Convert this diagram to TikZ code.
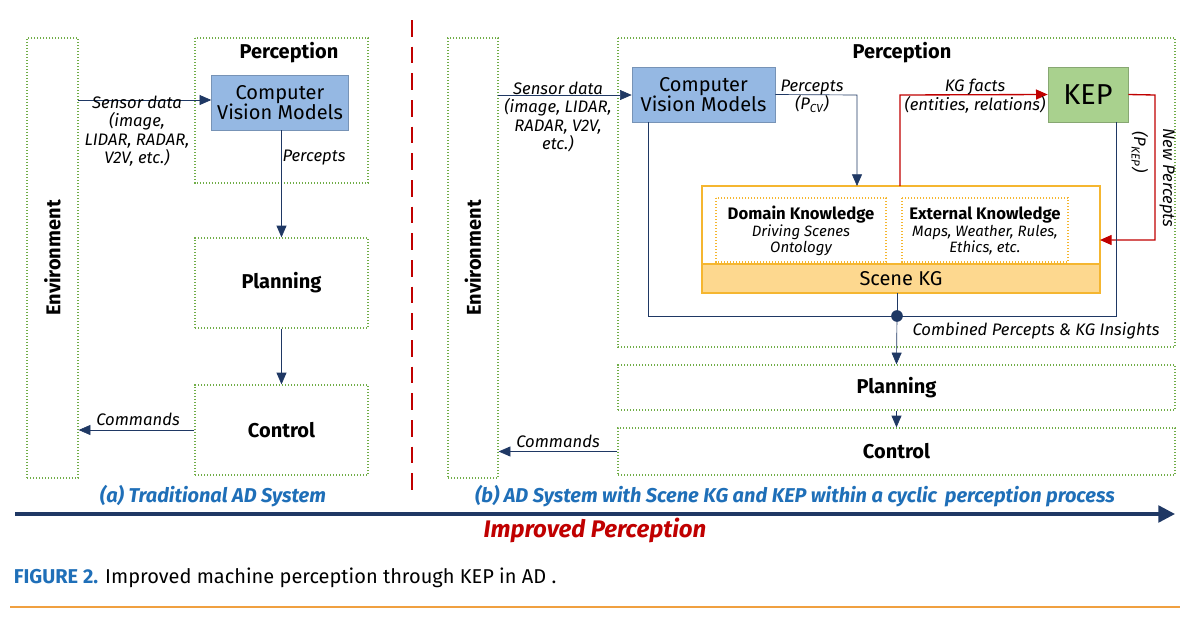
\documentclass[tikz,border=0pt]{standalone}
\usepackage{fontspec}
\setmainfont{Fira Sans}
\usetikzlibrary{arrows.meta}
\definecolor{navy}{HTML}{1F3864}
\definecolor{grn}{HTML}{70AD47}
\definecolor{cvblue}{HTML}{95B8E3}
\definecolor{kepgrn}{HTML}{A9D18E}
\definecolor{kgorange}{HTML}{F5B630}
\definecolor{kgfill}{HTML}{FDD88F}
\definecolor{capblue}{HTML}{1F6FB8}
\definecolor{darkred}{HTML}{C00000}
\definecolor{rulecol}{HTML}{F0A040}
\newcommand{\sbs}[1]{\textsubscript{\itshape #1}}
\tikzset{
  stage/.style={draw=grn, densely dotted, thick},
  model/.style={draw=cvblue!80!black, fill=cvblue, align=center, font=\large},
  link/.style={draw=navy, -{Triangle[width=6pt,length=7pt]}},
  plain/.style={draw=navy},
  redlink/.style={draw=darkred, thick, -{Triangle[width=6pt,length=7pt]}},
  lbl/.style={font=\itshape, align=center},
  title/.style={font=\bfseries\large}
}
\begin{document}
\begin{tikzpicture}[x=0.6pt, y=-0.6pt]
  \useasboundingbox (0,0) rectangle (1200,631);

  % (a) Traditional system
  \node[stage, minimum width=51*0.6pt, minimum height=440*0.6pt] (envA) at (52.5,258) {};
  \node[rotate=90, title] at (envA) {Environment};
  \draw[stage] (195,38) rectangle (368,183);
  \node[title] (percA) at (289,53) {Perception};
  \node[model, minimum width=130*0.6pt, minimum height=55*0.6pt] (cvA) at (280,102.5) {Computer\\[-2pt]Vision Models};
  \node[stage, minimum width=173*0.6pt, minimum height=90*0.6pt] (planA) at (281.5,283) {};
  \node[title] at (planA) {Planning};
  \node[stage, minimum width=173*0.6pt, minimum height=90*0.6pt] (ctrlA) at (281.5,430) {};
  \node[title] at (ctrlA) {Control};

  \coordinate (sensA) at (78,100);
  \draw[link] (sensA) -- (cvA.west |- sensA);
  \node[lbl] at (137,131) {Sensor data\\[-1pt](image,\\[-1pt]LIDAR, RADAR,\\[-1pt]V2V, etc.)};
  \draw[link] (cvA.south -| planA.north) -- (planA.north);
  \node[lbl] at (314,158) {Percepts};
  \draw[link] (planA.south) -- (ctrlA.north);
  \draw[link] (ctrlA.west) -- (envA.east |- ctrlA.west);
  \node[lbl] at (138,419) {Commands};

  % separator
  \draw[darkred, thick, dash pattern=on 10pt off 6pt] (412,20) -- (412,495);

  % (b) With Scene KG and KEP
  \node[stage, minimum width=50*0.6pt, minimum height=440*0.6pt] (envB) at (473,258) {};
  \node[rotate=90, title] at (envB) {Environment};
  \draw[stage] (618,38) rectangle (1175,347);
  \node[title] at (902,53) {Perception};
  \node[model, minimum width=143*0.6pt, minimum height=55*0.6pt] (cvB) at (703.5,94.5) {Computer\\[-2pt]Vision Models};
  \node[draw=kepgrn!80!black, fill=kepgrn, minimum width=80*0.6pt, minimum height=55*0.6pt, font=\LARGE] (kep) at (1088,94.5) {KEP};

  \draw[kgorange, thick] (702,186) rectangle (1100,293);
  \fill[kgfill] (703,264) rectangle (1099,292);
  \draw[kgorange, thick] (702,264) -- (1100,264);
  \node[font=\large] at (901,279) {Scene KG};
  \coordinate (kgN) at (900,186);
  \coordinate (kgS) at (897,293);
  \coordinate (kgE) at (1100,240);
  \draw[kgorange, densely dotted, thick] (716,198) rectangle (886,262);
  \draw[kgorange, densely dotted, thick] (902,198) rectangle (1068,262);
  \node[align=center] at (801,231) {\textbf{Domain Knowledge}\\[-2pt]\itshape\small Driving Scenes\\[-2pt]\itshape\small Ontology};
  \node[align=center] at (985,231) {\textbf{External Knowledge}\\[-2pt]\itshape\small Maps, Weather, Rules,\\[-2pt]\itshape\small Ethics, etc.};

  \node[stage, minimum width=557*0.6pt, minimum height=45*0.6pt] (planB) at (896.5,387.5) {};
  \node[title] at (planB) {Planning};
  \node[stage, minimum width=557*0.6pt, minimum height=47*0.6pt] (ctrlB) at (896.5,451.5) {};
  \node[title] at (ctrlB) {Control};

  \coordinate (sensB) at (498,95);
  \draw[link] (sensB) -- (cvB.west |- sensB);
  \node[lbl] at (558,117) {Sensor data\\[-1pt](image, LIDAR,\\[-1pt]RADAR, V2V,\\[-1pt]etc.)};
  \draw[link] (cvB.east) -- (857,95) -- (857,186);
  \node[lbl] at (812,96) {Percepts\\[-1pt](P\sbs{CV})};
  \draw[redlink] (kgN) -- (900,95) -- (kep.west);
  \node[lbl] at (975,96) {KG facts\\[-1pt](entities, relations)};
  \draw[redlink] (kep.east) -- (1155,95) -- (1155,240) -- (kgE);
  \node[lbl, rotate=-90] at (1167,178) {New Percepts};
  \node[lbl, rotate=-90] at (1140,152) {(P\sbs{KEP})};

  \coordinate (merge) at (897,316);
  \draw[plain] (648,122) -- (648,316) -- (1116,316) -- (1116,122);
  \draw[plain] (kgS) -- (merge);
  \fill[navy] (merge) circle (3.5pt);
  \draw[link] (merge) -- (planB.north);
  \node[lbl] at (1036,331) {Combined Percepts \& KG Insights};
  \draw[link] (planB.south) -- (ctrlB.north);
  \draw[link] (ctrlB.west) -- (envB.east |- ctrlB.west);
  \node[lbl] at (558,441) {Commands};

  % captions
  \node[font=\bfseries\itshape\large, text=capblue] at (213,496) {(a) Traditional AD System};
  \node[font=\bfseries\itshape\large, text=capblue] at (795,496) {(b) AD System with Scene KG and KEP within a cyclic\, perception process};
  \draw[navy, line width=2pt, -{Triangle[width=10pt,length=10pt]}] (15,514) -- (1175,514);
  \node[font=\bfseries\itshape\Large, text=darkred] at (595,530) {Improved Perception};
  \node[anchor=west, font=\large] at (8,578) {\textcolor{capblue}{\bfseries FIGURE 2.} Improved machine perception through KEP in AD .};
  \draw[rulecol, line width=1pt] (10,607) -- (1180,607);
\end{tikzpicture}
\end{document}
